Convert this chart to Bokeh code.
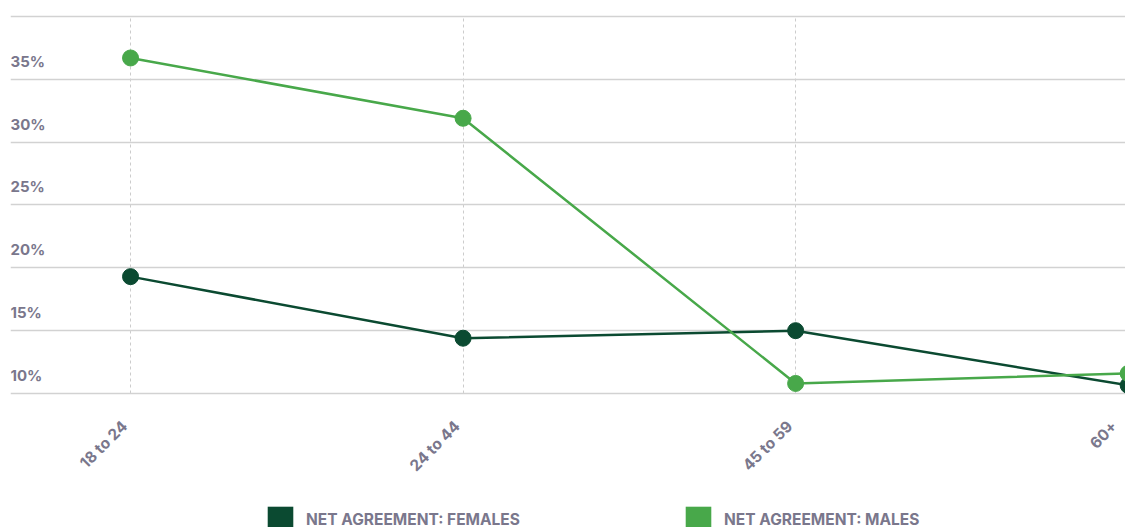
from bokeh.plotting import figure
from bokeh.models import Range1d, Legend, LegendItem, FixedTicker, ColumnDataSource
from bokeh.core.properties import value
from bokeh.embed import file_html
from bokeh.resources import INLINE
import math

categories = ["18 to 24", "24 to 44", "45 to 59", "60+"]
females = [19.3, 14.4, 15.0, 10.65]
males = [36.7, 31.9, 10.8, 11.6]
y_ticks = [10, 15, 20, 25, 30, 35, 40]
y_tick_labels = ["10%", "15%", "20%", "25%", "30%", "35%", ""]

DARK = "#0b4a31"
LIGHT = "#48a84a"
GREY = "#7a778c"
FONT = "Inter"

xs = list(range(len(categories)))

p = figure(width=1125, height=527, output_backend="svg", toolbar_location=None,
           x_range=Range1d(-0.361, 2.992), y_range=Range1d(-0.663, 41.273),
           min_border_left=10, min_border_right=0, min_border_top=0, min_border_bottom=0)
p.outline_line_color = None
p.background_fill_color = "white"
p.border_fill_color = "white"
p.xaxis.visible = False
p.yaxis.visible = False

p.ygrid.ticker = FixedTicker(ticks=y_ticks)
p.ygrid.grid_line_color = "#d2d2d2"
p.ygrid.grid_line_width = 1.3
p.xgrid.ticker = FixedTicker(ticks=xs)
p.xgrid.cross_bounds = (y_ticks[0], y_ticks[-1])
p.xgrid.grid_line_color = "#cccccc"
p.xgrid.grid_line_dash = "3 3"
p.xgrid.grid_line_width = 1

# y tick labels, above their gridlines
ylab = ColumnDataSource(dict(x=[p.x_range.start] * len(y_ticks), y=y_ticks, t=y_tick_labels))
p.text(x="x", y="y", text="t", source=ylab, x_offset=0, y_offset=-18,
       text_baseline="alphabetic", text_align="left", text_font=value(FONT),
       text_font_style="bold", text_font_size="15px", text_color=GREY)

# x category labels, rotated; the last one is nudged inside the plot edge
label_dx = [-6] * (len(xs) - 1) + [-14]
xlab = ColumnDataSource(dict(x=xs, y=[y_ticks[0]] * len(xs), t=categories, dx=label_dx))
p.text(x="x", y="y", text="t", source=xlab, x_offset="dx", y_offset=30, angle=math.pi / 4,
       text_baseline="middle", text_align="right", text_font=value(FONT),
       text_font_style="bold", text_font_size="15.5px", text_color=GREY)

fl = p.line(xs, females, line_color=DARK, line_width=2.5)
fc = p.scatter(xs, females, size=16, fill_color=DARK, line_color=DARK)
ml = p.line(xs, males, line_color=LIGHT, line_width=2.5)
mc = p.scatter(xs, males, size=16, fill_color=LIGHT, line_color=LIGHT)

# zero-area quads that only serve as legend swatches
sf = p.quad(left=[0], right=[0], top=[0], bottom=[0], fill_color=DARK, line_color=None)
sm = p.quad(left=[0], right=[0], top=[0], bottom=[0], fill_color=LIGHT, line_color=None)

common = dict(orientation="horizontal", glyph_width=32, glyph_height=32, label_standoff=10,
              padding=0, margin=0, border_line_color=None, background_fill_alpha=0,
              label_text_font=FONT, label_text_font_style="bold",
              label_text_font_size="15.5px", label_text_color=GREY, label_height=32)
leg1 = Legend(items=[LegendItem(label="NET AGREEMENT: FEMALES", renderers=[sf])],
              location=(254, -8), **common)
leg2 = Legend(items=[LegendItem(label="NET AGREEMENT: MALES", renderers=[sm])],
              location=(672, -8), **common)
p.add_layout(leg1, "center")
p.add_layout(leg2, "center")

open("out.html", "w").write(file_html(p, INLINE))
